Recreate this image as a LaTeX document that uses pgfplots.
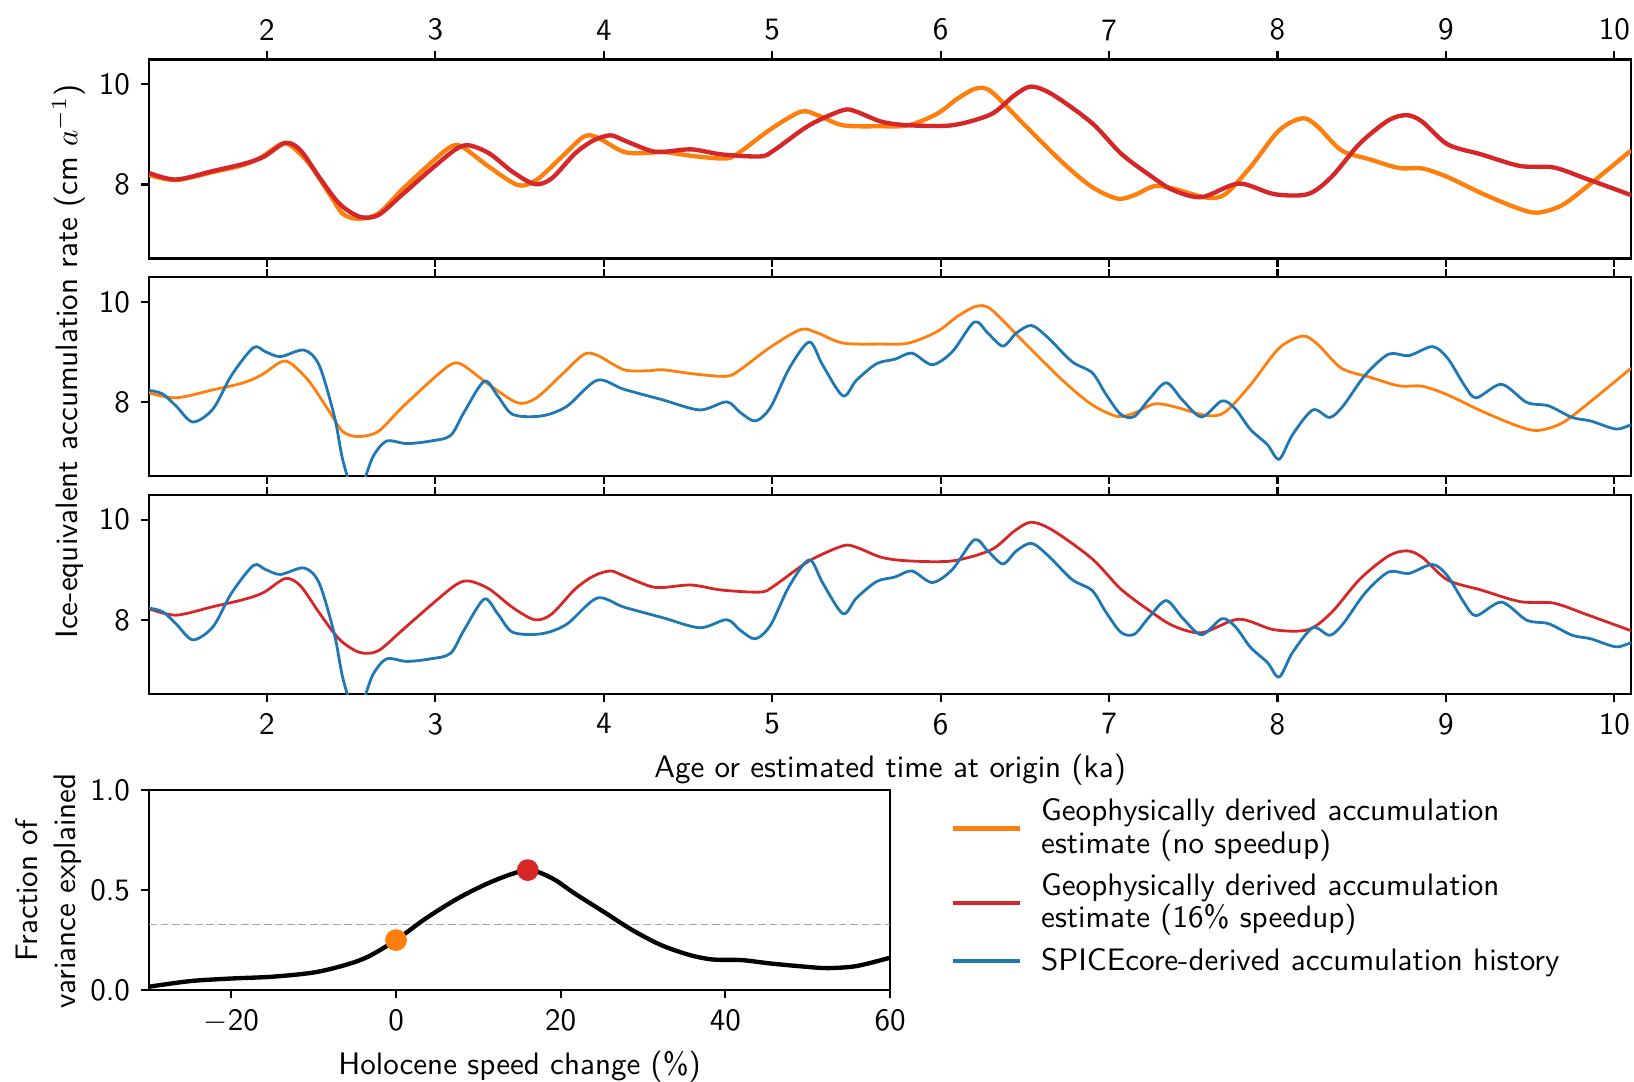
\documentclass[border=0pt]{standalone}
\usepackage{pgfplots}
\pgfplotsset{compat=1.18}
\usepackage{pgfplotstable}
\renewcommand{\familydefault}{\sfdefault}

\definecolor{tabor}{HTML}{FF7F0E}
\definecolor{tabred}{HTML}{D62728}
\definecolor{tabblue}{HTML}{1F77B4}

% geophysical estimate, no speedup
\pgfplotstableread{
x y
1.30 8.19
1.46 8.09
1.68 8.25
1.86 8.39
1.97 8.55
2.08 8.80
2.14 8.78
2.25 8.42
2.37 7.82
2.45 7.42
2.54 7.32
2.66 7.42
2.80 7.89
2.97 8.42
3.09 8.75
3.16 8.75
3.32 8.35
3.49 7.99
3.60 8.09
3.75 8.55
3.88 8.95
3.96 8.94
4.12 8.65
4.27 8.63
4.35 8.65
4.55 8.56
4.73 8.52
4.81 8.65
4.99 9.10
5.17 9.45
5.27 9.38
5.42 9.18
5.64 9.16
5.81 9.18
5.98 9.41
6.10 9.71
6.21 9.91
6.30 9.85
6.50 9.18
6.73 8.42
6.90 7.95
7.05 7.72
7.15 7.79
7.27 7.97
7.38 7.92
7.58 7.74
7.69 7.81
7.84 8.35
8.01 9.08
8.15 9.32
8.24 9.15
8.38 8.68
8.55 8.50
8.72 8.33
8.86 8.32
9.01 8.15
9.21 7.83
9.41 7.55
9.54 7.44
9.69 7.59
9.86 8.02
10.10 8.68
}\orangedata

% geophysical estimate, 16% speedup
\pgfplotstableread{
x y
1.30 8.23
1.46 8.10
1.68 8.27
1.86 8.41
1.98 8.55
2.11 8.83
2.20 8.68
2.31 8.15
2.43 7.62
2.55 7.36
2.66 7.39
2.80 7.79
2.97 8.29
3.12 8.70
3.20 8.78
3.32 8.62
3.46 8.25
3.59 8.01
3.69 8.12
3.83 8.62
3.94 8.88
4.04 8.98
4.12 8.88
4.27 8.68
4.35 8.65
4.52 8.70
4.70 8.60
4.93 8.56
5.01 8.68
5.22 9.18
5.42 9.48
5.50 9.45
5.65 9.25
5.81 9.18
6.07 9.18
6.30 9.40
6.44 9.78
6.54 9.95
6.67 9.78
6.90 9.22
7.07 8.62
7.24 8.19
7.38 7.89
7.55 7.75
7.77 8.02
7.98 7.81
8.18 7.81
8.32 8.15
8.49 8.82
8.66 9.28
8.77 9.38
8.86 9.25
9.01 8.80
9.21 8.60
9.44 8.37
9.64 8.34
9.83 8.12
10.10 7.79
}\reddata

% SPICEcore
\pgfplotstableread{
x y
1.30 8.24
1.38 8.17
1.46 7.93
1.56 7.61
1.68 7.87
1.79 8.54
1.92 9.09
1.99 9.01
2.08 8.91
2.22 9.04
2.31 8.74
2.40 7.73
2.45 6.86
2.51 6.25
2.57 6.40
2.63 6.92
2.71 7.23
2.83 7.18
2.97 7.23
3.09 7.34
3.17 7.80
3.29 8.42
3.37 8.13
3.46 7.76
3.63 7.73
3.78 7.92
3.96 8.44
4.12 8.26
4.35 8.05
4.57 7.85
4.73 8.01
4.81 7.80
4.90 7.63
4.99 7.90
5.10 8.67
5.22 9.20
5.30 8.74
5.42 8.13
5.50 8.44
5.62 8.77
5.73 8.86
5.83 8.98
5.95 8.75
6.07 9.01
6.20 9.60
6.28 9.38
6.37 9.12
6.45 9.38
6.54 9.53
6.64 9.28
6.78 8.81
6.90 8.59
6.98 8.17
7.07 7.76
7.15 7.72
7.24 8.07
7.34 8.39
7.44 8.03
7.55 7.71
7.67 8.03
7.75 7.87
7.84 7.46
7.94 7.16
8.01 6.87
8.09 7.36
8.21 7.85
8.31 7.70
8.39 7.93
8.52 8.54
8.66 8.96
8.78 8.93
8.92 9.11
9.01 8.88
9.11 8.34
9.18 8.09
9.33 8.36
9.48 8.00
9.61 7.93
9.75 7.70
9.86 7.63
10.01 7.47
10.10 7.56
}\bluedata

% variance explained vs speed change
\pgfplotstableread{
x y
-30 0.017
-25 0.045
-20 0.058
-15 0.067
-10 0.088
-6.2 0.125
-3.4 0.167
0 0.25
3.6 0.358
7.7 0.463
11.9 0.547
16 0.60
19 0.558
21.7 0.483
25.2 0.392
28.7 0.30
32.2 0.225
35.7 0.175
38.5 0.153
42 0.15
45.5 0.133
49.7 0.117
52.4 0.11
55.9 0.12
60 0.162
}\vardata

\pgfplotsset{
  common/.style={
    scale only axis, anchor=north west,
    tick align=outside, major tick length=2.6pt,
    axis line style={line width=0.7pt},
    every tick/.style={black, line width=0.7pt},
    /pgf/number format/assume math mode=true,
    tick label style={font=\normalsize},
    label style={font=\normalsize},
  },
  panel/.style={
    common, width=477.2pt, height=64.08pt,
    xmin=1.3, xmax=10.1, ymin=6.53, ymax=10.49,
    xtick={2,...,10}, ytick={8,10},
    xtick pos=both, ytick pos=left,
  },
}

\begin{document}
\begin{tikzpicture}
\useasboundingbox (0pt,0pt) rectangle (526.1pt,-348.1pt);

\begin{axis}[panel, at={(47.98pt,-19.13pt)}, xticklabel pos=right]
\addplot[tabor, line width=1.4pt, smooth] table {\orangedata};
\addplot[tabred, line width=1.4pt, smooth] table {\reddata};
\end{axis}

\begin{axis}[panel, at={(47.98pt,-89.26pt)}, xticklabels={}]
\addplot[tabor, line width=0.9pt, smooth] table {\orangedata};
\addplot[tabblue, line width=0.9pt, smooth] table {\bluedata};
\end{axis}

\begin{axis}[panel, at={(47.98pt,-159.39pt)}, xticklabel pos=left,
  xlabel={Age or estimated time at origin (ka)},
  xlabel style={yshift=0.5pt}]
\addplot[tabred, line width=0.9pt, smooth] table {\reddata};
\addplot[tabblue, line width=0.9pt, smooth] table {\bluedata};
\end{axis}

\node[rotate=90] at (22.1pt,-116.4pt) {Ice-equivalent accumulation rate (cm $a^{-1}$)};

\begin{axis}[common, at={(47.98pt,-254.38pt)}, width=238.6pt, height=64.4pt,
  xmin=-30, xmax=60, ymin=0, ymax=1,
  xtick={-20,0,20,40,60}, xticklabels={$-$20,0,20,40,60},
  ytick={0,0.5,1}, yticklabels={0.0,0.5,1.0},
  xtick pos=left, ytick pos=left,
  xlabel={Holocene speed change (\%)},
  xlabel style={yshift=1pt},
  legend image code/.code={\draw[#1] (0pt,0pt) -- (21.6pt,0pt);},
  legend style={at={(1.069,1.021)}, anchor=north west, draw=none, fill=none,
    font=\fontsize{10}{10.4}\selectfont, row sep=1pt, column sep=4pt,
    cells={anchor=west, align=left}},
]
\addplot[gray!70, line width=0.5pt, dash pattern=on 2.5pt off 1.2pt, forget plot] coordinates {(-30,0.328) (60,0.328)};
\addplot[black, line width=1.4pt, smooth, forget plot] table {\vardata};
\addplot[only marks, mark=*, mark size=3.3pt, color=tabor, forget plot] coordinates {(0,0.25)};
\addplot[only marks, mark=*, mark size=3.3pt, color=tabred, forget plot] coordinates {(16,0.60)};
\addlegendimage{tabor, line width=1.4pt}
\addlegendentry{Geophysically derived accumulation\\estimate (no speedup)}
\addlegendimage{tabred, line width=1.4pt}
\addlegendentry{Geophysically derived accumulation\\estimate (16\% speedup)}
\addlegendimage{tabblue, line width=1.4pt}
\addlegendentry{SPICEcore-derived accumulation history}
\end{axis}

\node[rotate=90, align=center] at (15.6pt,-286.9pt) {Fraction of\\variance explained};
\end{tikzpicture}
\end{document}
